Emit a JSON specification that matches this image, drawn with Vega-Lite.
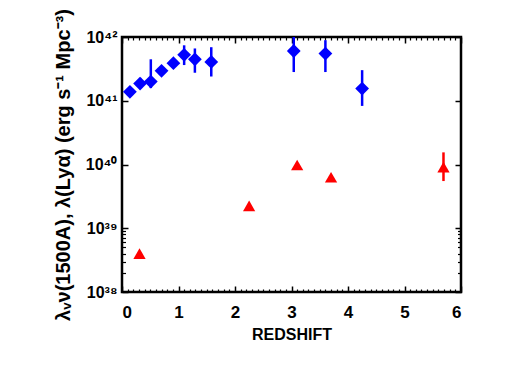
{
  "$schema": "https://vega.github.io/schema/vega-lite/v6.json",
  "width": 339,
  "height": 255,
  "autosize": "none",
  "padding": {"left": 122, "top": 37, "right": 51, "bottom": 74},
  "background": "white",
  "config": {
    "view": {"stroke": "black", "strokeWidth": 2.5},
    "axis": {"domain": false, "grid": false, "labelFont": "Liberation Sans", "titleFont": "Liberation Sans", "labelColor": "black", "titleColor": "black", "tickColor": "black", "labelFontWeight": "bold", "titleFontWeight": "bold"}
  },
  "datasets": {
    "blue": [
      {"z": 0.14, "L": 1.38e41, "lo": 1.38e41, "hi": 1.38e41},
      {"z": 0.32, "L": 1.86e41, "lo": 1.58e41, "hi": 2.29e41},
      {"z": 0.51, "L": 2.0e41, "lo": 1.58e41, "hi": 4.47e41},
      {"z": 0.70, "L": 2.95e41, "lo": 2.95e41, "hi": 2.95e41},
      {"z": 0.91, "L": 3.89e41, "lo": 3.89e41, "hi": 3.89e41},
      {"z": 1.10, "L": 5.25e41, "lo": 3.63e41, "hi": 7.41e41},
      {"z": 1.29, "L": 4.47e41, "lo": 2.75e41, "hi": 6.61e41},
      {"z": 1.58, "L": 4.07e41, "lo": 2.40e41, "hi": 6.92e41},
      {"z": 3.04, "L": 6.03e41, "lo": 2.82e41, "hi": 1.0e42},
      {"z": 3.60, "L": 5.50e41, "lo": 2.82e41, "hi": 8.91e41},
      {"z": 4.25, "L": 1.55e41, "lo": 8.3e40, "hi": 3.02e41}
    ],
    "red": [
      {"z": 0.31, "L": 4.0e38, "lo": 3.5e38, "hi": 4.4e38},
      {"z": 2.25, "L": 2.24e39, "lo": 2.24e39, "hi": 2.24e39},
      {"z": 3.10, "L": 9.8e39, "lo": 9.8e39, "hi": 9.8e39},
      {"z": 3.70, "L": 6.3e39, "lo": 6.3e39, "hi": 6.3e39},
      {"z": 5.69, "L": 9.1e39, "lo": 5.5e39, "hi": 1.55e40}
    ]
  },
  "resolve": {"axis": {"x": "independent", "y": "independent"}},
  "layer": [
    {
      "data": {"name": "blue"},
      "mark": {"type": "rule", "color": "#0000ff", "strokeWidth": 2.5},
      "encoding": {
        "x": {"field": "z", "type": "quantitative", "scale": {"domain": [0, 6], "nice": false, "zero": false},
              "axis": {"orient": "bottom", "ticks": false, "values": [0, 1, 2, 3, 4, 5, 6], "labelPadding": 12, "labelFontSize": 17, "title": "REDSHIFT", "titleFontSize": 16, "titlePadding": 6}},
        "y": {"field": "lo", "type": "quantitative", "scale": {"type": "log", "domain": [1e38, 1e42], "nice": false},
              "axis": {"orient": "left", "ticks": false, "values": [1e38, 1e39, 1e40, 1e41, 1e42], "labelPadding": 5, "labelFontSize": 16,
                       "labelExpr": "'10' + ['³⁸','³⁹','⁴⁰','⁴¹','⁴²'][round(log(datum.value)/LN10) - 38]",
                       "title": "λᵥν(1500A), λ(Lyα)  (erg s⁻¹ Mpc⁻³)", "titleFontSize": 20, "titlePadding": 12}},
        "y2": {"field": "hi"}
      }
    },
    {
      "data": {"name": "blue"},
      "mark": {"type": "point", "shape": "diamond", "filled": true, "color": "#0000ff", "size": 190, "opacity": 1},
      "encoding": {
        "x": {"field": "z", "type": "quantitative",
              "axis": {"orient": "bottom", "labels": false, "values": [0, 1, 2, 3, 4, 5, 6], "offset": -6, "tickSize": 6, "tickWidth": 1.5, "title": null}},
        "y": {"field": "L", "type": "quantitative",
              "axis": {"orient": "left", "labels": false, "values": [1e38, 1e39, 1e40, 1e41, 1e42], "offset": -6, "tickSize": 6, "tickWidth": 1.5, "title": null}}
      }
    },
    {
      "data": {"name": "red"},
      "mark": {"type": "rule", "color": "#ff0000", "strokeWidth": 2.5},
      "encoding": {
        "x": {"field": "z", "type": "quantitative",
              "axis": {"orient": "bottom", "labels": false, "offset": -3, "tickSize": 3, "tickWidth": 1.2, "title": null,
                       "values": [0.1,0.2,0.3,0.4,0.5,0.6,0.7,0.8,0.9,1.1,1.2,1.3,1.4,1.5,1.6,1.7,1.8,1.9,2.1,2.2,2.3,2.4,2.5,2.6,2.7,2.8,2.9,3.1,3.2,3.3,3.4,3.5,3.6,3.7,3.8,3.9,4.1,4.2,4.3,4.4,4.5,4.6,4.7,4.8,4.9,5.1,5.2,5.3,5.4,5.5,5.6,5.7,5.8,5.9]}},
        "y": {"field": "lo", "type": "quantitative",
              "axis": {"orient": "left", "labels": false, "values": [2e38, 3e38, 4e38, 5e38, 6e38, 7e38, 8e38, 9e38], "offset": -3.5, "tickSize": 3.5, "tickWidth": 1.2, "title": null}},
        "y2": {"field": "hi"}
      }
    },
    {
      "data": {"name": "red"},
      "mark": {"type": "point", "shape": "triangle-up", "filled": true, "color": "#ff0000", "size": 150, "opacity": 1},
      "encoding": {
        "x": {"field": "z", "type": "quantitative",
              "axis": {"orient": "top", "labels": false, "values": [0, 1, 2, 3, 4, 5, 6], "offset": -6, "tickSize": 6, "tickWidth": 1.5, "title": null}},
        "y": {"field": "L", "type": "quantitative",
              "axis": {"orient": "right", "labels": false, "values": [1e38, 1e39, 1e40, 1e41, 1e42], "offset": -6, "tickSize": 6, "tickWidth": 1.5, "title": null}}
      }
    },
    {
      "data": {"name": "red"},
      "mark": {"type": "point", "shape": "triangle-up", "filled": true, "color": "#ff0000", "size": 150, "opacity": 0},
      "encoding": {
        "x": {"field": "z", "type": "quantitative",
              "axis": {"orient": "top", "labels": false, "offset": -3, "tickSize": 3, "tickWidth": 1.2, "title": null,
                       "values": [0.1,0.2,0.3,0.4,0.5,0.6,0.7,0.8,0.9,1.1,1.2,1.3,1.4,1.5,1.6,1.7,1.8,1.9,2.1,2.2,2.3,2.4,2.5,2.6,2.7,2.8,2.9,3.1,3.2,3.3,3.4,3.5,3.6,3.7,3.8,3.9,4.1,4.2,4.3,4.4,4.5,4.6,4.7,4.8,4.9,5.1,5.2,5.3,5.4,5.5,5.6,5.7,5.8,5.9]}},
        "y": {"field": "L", "type": "quantitative",
              "axis": {"orient": "right", "labels": false, "values": [2e38, 3e38, 4e38, 5e38, 6e38, 7e38, 8e38, 9e38], "offset": -3.5, "tickSize": 3.5, "tickWidth": 1.2, "title": null}}
      }
    }
  ]
}
